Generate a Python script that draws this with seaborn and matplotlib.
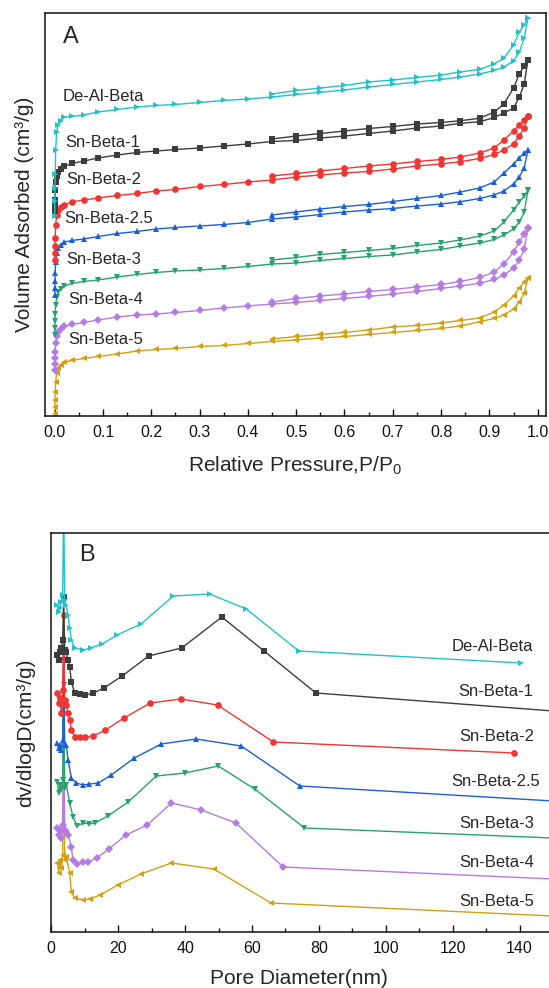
import numpy as np
import pandas as pd
import matplotlib
matplotlib.use("Agg")
import matplotlib.pyplot as plt
import seaborn as sns

# ---------------- data ----------------
SAMPLES = ["De-Al-Beta", "Sn-Beta-1", "Sn-Beta-2", "Sn-Beta-2.5",
           "Sn-Beta-3", "Sn-Beta-4", "Sn-Beta-5"]
COLORS = ["#22c3c8", "#3d3d3d", "#f03535", "#1a5fd8",
          "#25a36a", "#b57ae3", "#d4a012"]
MARKERS = [">", "s", "o", "^", "v", "D", "<"]

# Panel A: N2 isotherms (offset, arbitrary units)
P_ADS = [0.0, 0.0002, 0.0005, 0.001, 0.002, 0.004, 0.007, 0.012, 0.02, 0.035,
         0.06, 0.09, 0.13, 0.17, 0.21, 0.25, 0.3, 0.35, 0.4, 0.45, 0.5, 0.55,
         0.6, 0.65, 0.7, 0.75, 0.8, 0.84, 0.88, 0.91, 0.93, 0.95, 0.962, 0.972,
         0.98]
P_DES = [0.98, 0.972, 0.962, 0.95, 0.93, 0.91, 0.88, 0.84, 0.8, 0.75, 0.7,
         0.65, 0.6, 0.55, 0.5, 0.45]

DEAL_ADS = [200, 215, 228, 242, 266, 284, 291, 295, 299, 299.5, 301, 304, 306.5,
            309, 310.5, 311.5, 313.5, 315.5, 317, 319, 321.5, 323.7, 326, 329,
            331.5, 334, 336.5, 339, 342, 345.5, 349, 355, 364, 378, 398]
DEAL_DES = [398, 391, 384, 371, 358, 352, 346.7, 344, 341, 338.5, 336, 334, 330.5,
            328, 325.5, 322]
SN1_ADS = [205, 210, 216, 226, 234, 240, 244, 247, 249.5, 252.5, 255, 258, 261,
           263.5, 265, 266.5, 268, 270, 272, 274.5, 275.5, 278, 280, 282.5, 285,
           288, 290, 292.7, 294.3, 298.5, 303, 308, 319, 332, 356]
SN1_DES = [356, 350, 342, 328, 312, 304, 297.7, 295.3, 293.5, 292, 289.5, 287.5,
           285, 282.5, 280, 277]
SN2_ADS = [156, 163, 170, 178, 191, 201, 206, 208.5, 211, 214, 216, 218, 220.5,
           222.5, 225, 226.5, 229.5, 231.5, 234, 236, 239, 241, 243, 244.5, 247,
           250, 252, 254.3, 257.5, 261.5, 266, 272, 280, 288, 300]
SN2_DES = [300, 296, 291, 285, 276, 268, 263, 259, 256.5, 254.5, 252, 250, 247.5,
           245, 242.5, 240]
SN25_ADS = [121, 128, 135, 143, 154, 163, 168, 171, 174, 175.5, 177, 179.5, 182.5,
            184.5, 187, 188.5, 190, 191.5, 193.5, 197, 199, 201.5, 204, 206,
            207.5, 210, 212, 214.3, 217.5, 221, 225, 232, 239, 248, 266]
SN25_DES = [266, 263, 258, 252, 243, 234, 228, 224, 220.5, 217.5, 214.5, 211.5,
            209.5, 207, 204, 201]
SN3_ADS = [81, 88, 95, 102, 111, 119, 124, 127, 130, 132.5, 134.5, 136, 139,
           141.5, 143.5, 145, 146, 147.5, 149.5, 152, 153, 155.5, 157.5, 159.5,
           161, 164, 166.5, 170, 173, 176.5, 181, 187, 194, 204, 226]
SN3_DES = [226, 220, 214, 206, 194, 185, 180, 176, 173, 170.5, 167.5, 165.5, 163.5,
           161.5, 158.5, 156]
SN4_ADS = [46, 52, 58, 64, 73, 80, 84, 87, 89.5, 91.5, 93.5, 96, 99, 101, 102,
           103.5, 105.5, 108, 110, 112, 113.5, 115.5, 117.5, 119.5, 122, 124.5,
           127.5, 130, 132.7, 136.5, 141, 148, 156, 167, 188]
SN4_DES = [188, 182, 174, 164, 152, 144, 138.5, 134.5, 131.5, 129, 126.5, 124.5,
           122, 120, 117.5, 114]
SN5_ADS = [2, 9, 16, 24, 34, 43, 48, 51, 53.5, 55.5, 57.5, 59.5, 62, 65, 66.5,
           67.5, 69.5, 70.5, 72.5, 74.5, 76, 78, 79.5, 81.5, 83.5, 85.5, 87.5, 90,
           94.3, 97.5, 101, 107, 114, 123, 138]
SN5_DES = [138, 134, 128, 120, 111, 104, 98, 95.5, 93, 90.5, 89, 86, 83.5, 81.5,
           79.5, 77]

ADS = [DEAL_ADS, SN1_ADS, SN2_ADS, SN25_ADS, SN3_ADS, SN4_ADS, SN5_ADS]
DES = [DEAL_DES, SN1_DES, SN2_DES, SN25_DES, SN3_DES, SN4_DES, SN5_DES]

# Panel B: pore size distributions (offset, arbitrary units)
DEAL_D = [1.8, 2.2, 2.6, 3.0, 3.4, 3.7, 4.0, 4.4, 5.0, 5.5, 6.0, 7.0, 9.6, 11.8,
          15.2, 19.7, 26.8, 36.5, 47.3, 58.3, 74.0, 140.5]
DEAL_V = [327, 320, 324, 330, 337, 432, 332, 327, 317, 304, 292, 284, 282, 284,
          288, 297, 308, 336, 338, 323, 281, 269]
SN1_D = [1.8, 2.2, 2.6, 3.0, 3.4, 3.7, 4.0, 4.4, 5.0, 5.5, 6.0, 7.0, 8.6, 10.1,
         12.6, 15.7, 21.2, 29.1, 39.0, 51.0, 63.6, 79.1, 150]
SN1_V = [277, 272, 280, 284, 292, 335, 282, 280, 272, 265, 250, 239, 238, 237,
         239, 244, 256, 276, 284, 315, 281, 239, 221]
SN2_D = [1.8, 2.2, 2.6, 3.0, 3.4, 3.7, 4.0, 4.4, 5.0, 5.5, 6.0, 7.0, 8.6, 10.1,
         12.6, 16.2, 21.7, 29.6, 38.7, 49.7, 66.4, 138.3]
SN2_V = [239, 229, 234, 219, 242, 317, 232, 227, 219, 212, 202, 195, 195, 195,
         196, 202, 214, 229, 233, 227, 190, 179]
SN25_D = [1.8, 2.2, 2.6, 3.0, 3.4, 3.7, 4.0, 4.5, 5.0, 6.0, 7.5, 9.6, 11.4, 14.1,
          17.9, 24.8, 32.9, 43.3, 56.8, 74.3, 150]
SN25_V = [189, 184, 187, 182, 192, 275, 187, 187, 172, 154, 149, 147, 148, 149,
          157, 174, 188, 193, 186, 146, 131]
SN3_D = [1.8, 2.2, 2.6, 3.0, 3.4, 3.7, 4.0, 4.5, 5.5, 6.5, 7.7, 9.6, 11.4, 13.1,
         16.9, 23.0, 31.4, 40.0, 49.9, 60.8, 75.7, 150]
SN3_V = [150, 139, 147, 142, 152, 247, 144, 147, 129, 115, 106, 109, 108, 109,
         116, 130, 156, 159, 166, 143, 104, 94]
SN4_D = [1.8, 2.3, 2.6, 3.0, 3.4, 3.7, 4.0, 4.5, 5.0, 6.0, 6.5, 7.7, 9.6, 11.1,
         13.6, 17.2, 22.3, 28.7, 35.9, 44.9, 55.2, 69.3, 150]
SN4_V = [104, 97, 102, 94, 107, 219, 102, 100, 97, 85, 72, 68, 70, 70, 74, 83, 97,
         107, 129, 122, 109, 65, 53]
SN5_D = [1.8, 2.2, 2.6, 3.0, 3.4, 3.7, 4.0, 4.5, 5.5, 6.0, 7.0, 9.6, 11.6, 14.6,
         19.9, 26.8, 35.9, 48.6, 65.7, 150]
SN5_V = [69, 59, 72, 64, 77, 185, 72, 75, 59, 40, 34, 32, 33, 37, 47, 58, 69, 63,
         29, 16]

PSD_D = [DEAL_D, SN1_D, SN2_D, SN25_D, SN3_D, SN4_D, SN5_D]
PSD_V = [DEAL_V, SN1_V, SN2_V, SN25_V, SN3_V, SN4_V, SN5_V]

XTICKS_A = [0.0, 0.1, 0.2, 0.3, 0.4, 0.5, 0.6, 0.7, 0.8, 0.9, 1.0]
XTICKS_B = [0, 20, 40, 60, 80, 100, 120, 140]

# ---------------- style ----------------
sns.set_style("ticks")
plt.rcParams["font.family"] = ["Liberation Sans", "DejaVu Sans"]
plt.rcParams["mathtext.default"] = "regular"

W, H = 549, 988
fig = plt.figure(figsize=(W / 100, H / 100), dpi=100)


def fx(px):
    return px / W


def fy(py):
    return 1 - py / H


# panel B extends slightly past the right edge of the image (as in the source)
axA = fig.add_axes([fx(45), fy(416), fx(546) - fx(45), fy(12.7) - fy(416)])
axB = fig.add_axes([fx(51.3), fy(932), fx(553) - fx(51.3), fy(533) - fy(932)])
XLIM_A = (-0.0201, 1.0172)
XLIM_B = (0, 146.05)

# long tables
rows = []
for s, a, d in zip(SAMPLES, ADS, DES):
    for p, v in zip(P_ADS, a):
        rows.append((s, "ads", p, v))
    for p, v in zip(P_DES, d):
        rows.append((s, "des", p, v))
iso = pd.DataFrame(rows, columns=["sample", "branch", "p", "v"])

rows = []
for s, dd, vv in zip(SAMPLES, PSD_D, PSD_V):
    for d, v in zip(dd, vv):
        rows.append((s, d, v))
psd = pd.DataFrame(rows, columns=["sample", "d", "v"])

# draw last sample first so upper curves sit on top at P/P0 -> 0
order = list(zip(SAMPLES, COLORS, MARKERS))[::-1]
for s, c, m in order:
    ms = 3.8 if m == "D" else 4.8
    for br in ["ads", "des"]:
        sub = iso[(iso["sample"] == s) & (iso["branch"] == br)]
        sns.lineplot(data=sub, x="p", y="v", sort=False, estimator=None,
                     color=c, marker=m, markersize=ms, markeredgewidth=0,
                     linewidth=1.0, ax=axA, legend=False)
    sub = psd[psd["sample"] == s].reset_index(drop=True)
    vis = [i for i, d in enumerate(sub["d"]) if d <= XLIM_B[1]]
    sns.lineplot(data=sub, x="d", y="v", sort=False, estimator=None,
                 color=c, marker=m, markersize=ms, markeredgewidth=0,
                 linewidth=1.0, ax=axB, legend=False, markevery=vis)

# ---------------- axes formatting ----------------
axA.set_xlim(*XLIM_A)
axA.set_ylim(0, 403.3)
axB.set_xlim(*XLIM_B)
axB.set_ylim(0, 399)

axA.set_xticks(XTICKS_A)
axA.set_xticklabels([f"{t:.1f}" for t in XTICKS_A])
axA.set_xticks([t + 0.05 for t in XTICKS_A[:-1]], minor=True)
axB.set_xticks(XTICKS_B)
axB.set_xticklabels([str(t) for t in XTICKS_B])
axB.set_xticks([t + 10 for t in XTICKS_B], minor=True)

for ax in (axA, axB):
    ax.set_yticks([])
    ax.set_xlabel("")
    ax.set_ylabel("")
    for sp in ax.spines.values():
        sp.set_visible(True)
        sp.set_linewidth(1.1)
        sp.set_color("#111111")
    ax.tick_params(axis="x", which="major", direction="in", length=5, width=1.0,
                   labelsize=11.5, pad=6.3, colors="#111111")
    ax.tick_params(axis="x", which="minor", direction="in", length=2.7, width=1.0,
                   colors="#111111")

# panel letters
axA.text((63 - 45) / 501, (416 - 36.7) / 403.3, "A", transform=axA.transAxes,
         fontsize=17, ha="left", va="center")
axB.text((78.8 - 51.3) / 501.7, (932 - 555) / 399, "B", transform=axB.transAxes,
         fontsize=17, ha="left", va="center")

# sample labels panel A (left x, center y in px)
A_LAB = [(62.7, 96.7), (65, 142.3), (66.7, 180), (64, 218.3),
         (66.7, 259.3), (68.3, 300), (68.3, 340)]
for s, (px, py) in zip(SAMPLES, A_LAB):
    axA.text((px - 45) / 501, (416 - py) / 403.3, s, transform=axA.transAxes,
             fontsize=12, ha="left", va="center")

# sample labels panel B
B_LAB = [(451.7, 646.7), (458.7, 691.7), (459, 736.7), (451.7, 781.7),
         (459, 823.3), (459, 862.7), (459, 901.7)]
for s, (px, py) in zip(SAMPLES, B_LAB):
    axB.text((px - 51.3) / 501.7, (932 - py) / 399, s, transform=axB.transAxes,
             fontsize=12, ha="left", va="center")

# axis titles
fig.text(fx(25), fy(214), "Volume Adsorbed (cm\u00b3/g)", rotation=90,
         ha="center", va="center", fontsize=15)
fig.text(fx(295.5), fy(472), "Relative Pressure,P/P$_0$", ha="center",
         va="baseline", fontsize=15)
fig.text(fx(26), fy(733), "dv/dlogD(cm\u00b3/g)", rotation=90,
         ha="center", va="center", fontsize=15)
fig.text(fx(299), fy(984), "Pore Diameter(nm)", ha="center",
         va="baseline", fontsize=15)

fig.savefig("out.png", dpi=100, facecolor="white")
